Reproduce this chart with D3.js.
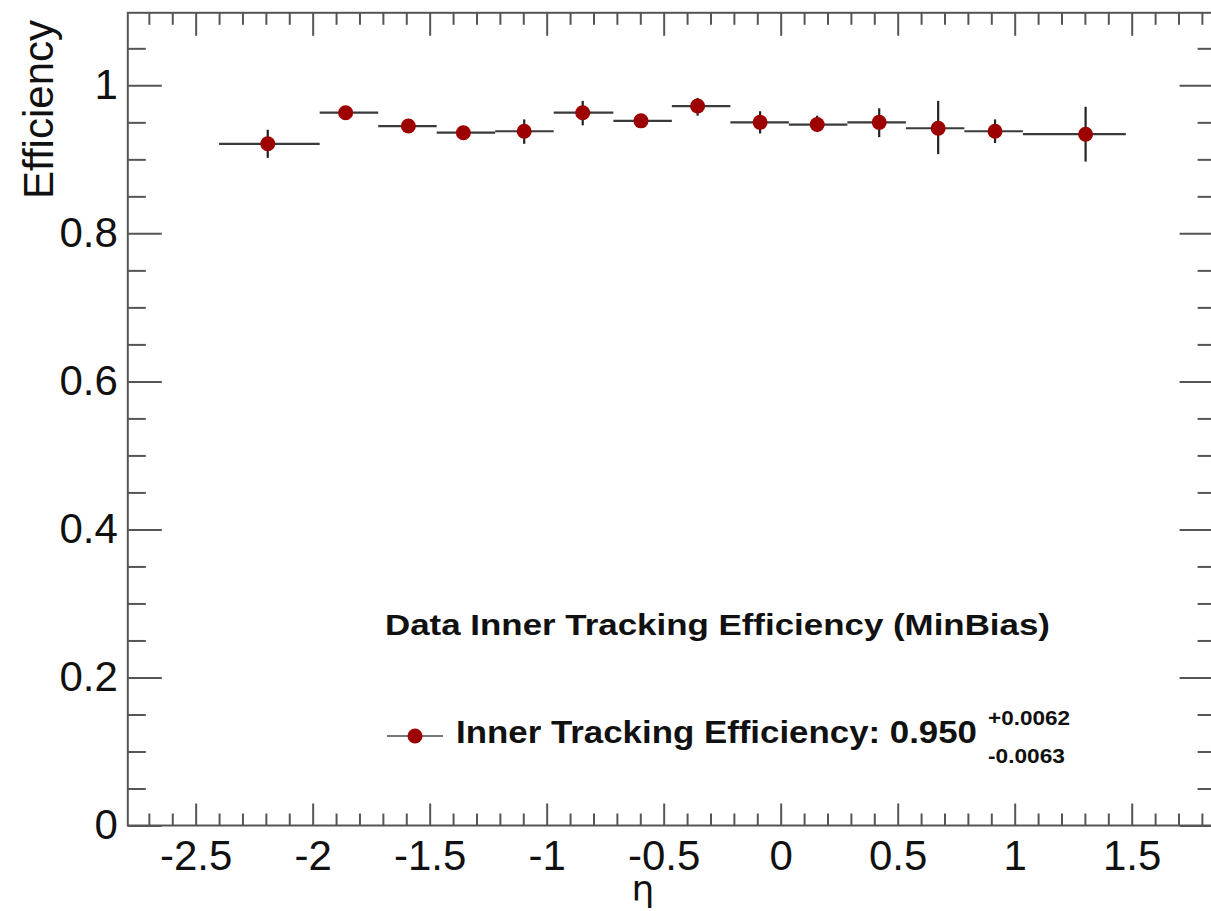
<!DOCTYPE html>
<html>
<head>
<meta charset="utf-8">
<script src="https://cdn.jsdelivr.net/npm/d3@7"></script>
<style>
  body { margin: 0; background: #fff; }
  svg { display: block; font-family: "Liberation Sans", Arial, sans-serif; }
</style>
</head>
<body>
<svg id="chart" width="1211" height="911"></svg>
<script>
// points per eta bin
var etaPoints = [-2.192, -1.859, -1.591, -1.356, -1.096, -0.846, -0.597, -0.355, -0.088, 0.156, 0.421, 0.673, 0.916, 1.303];
var binLow    = [-2.40, -1.97, -1.72, -1.47, -1.22, -0.97, -0.715, -0.465, -0.215, 0.035, 0.285, 0.535, 0.785, 1.035];
var binHigh   = [-1.97, -1.72, -1.47, -1.22, -0.97, -0.715, -0.465, -0.215, 0.035, 0.285, 0.535, 0.785, 1.035, 1.475];
var efficiency = [0.921, 0.963, 0.945, 0.936, 0.938, 0.963, 0.952, 0.972, 0.950, 0.947, 0.950, 0.942, 0.938, 0.934];
var errUp   = [0.019, 0.004, 0.004, 0.004, 0.016, 0.016, 0.005, 0.011, 0.015, 0.012, 0.019, 0.037, 0.016, 0.037];
var errDown = [0.019, 0.004, 0.004, 0.004, 0.017, 0.017, 0.005, 0.013, 0.015, 0.010, 0.020, 0.035, 0.016, 0.037];

// tick labels
var xMajor = [-2.5, -2, -1.5, -1, -0.5, 0, 0.5, 1, 1.5];
var yMajor = [0, 0.2, 0.4, 0.6, 0.8, 1];

var titleText = "Data Inner Tracking Efficiency (MinBias)";
var legendText = "Inner Tracking Efficiency: 0.950";
var legendUp = "+0.0062", legendDown = "-0.0063";

var svg = d3.select("#chart");

var x = d3.scaleLinear().domain([-2.79, 1.85]).range([127.8, 1213.6]);
var y = d3.scaleLinear().domain([0, 1.098]).range([825.5, 12.8]);

var xMinor = d3.range(-27, 19).map(function (d) { return d / 10; })
    .filter(function (d) { return Math.abs(d * 2 - Math.round(d * 2)) > 1e-6; });
var yMinor = d3.range(1, 22).map(function (d) { return d * 0.05; })
    .filter(function (d) { return Math.abs(d * 5 - Math.round(d * 5)) > 1e-6; });

var axisColor = "#555";
// plain hyphen minus like the original plot
var plain = function (d) { return String(d); };

// frame
svg.append("rect")
    .attr("x", x.range()[0]).attr("y", y.range()[1])
    .attr("width", x.range()[1] - x.range()[0])
    .attr("height", y.range()[0] - y.range()[1])
    .attr("fill", "none").attr("stroke", axisColor).attr("stroke-width", 2);

function styleAxis(g) {
    g.select(".domain").remove();
    g.selectAll("line").attr("stroke", axisColor).attr("stroke-width", 2);
    g.selectAll("text").attr("fill", "#111").attr("font-size", "42px")
        .attr("font-family", "Liberation Sans, Arial, sans-serif");
}

// bottom
svg.append("g").attr("transform", "translate(0," + y(0) + ")")
    .call(d3.axisBottom(x).tickValues(xMajor).tickSize(-22).tickPadding(15).tickFormat(plain))
    .call(styleAxis);
svg.append("g").attr("transform", "translate(0," + y(0) + ")")
    .call(d3.axisBottom(x).tickValues(xMinor).tickSize(-12).tickFormat(""))
    .call(styleAxis);
// top
svg.append("g").attr("transform", "translate(0," + y.range()[1] + ")")
    .call(d3.axisTop(x).tickValues(xMajor).tickSize(-23).tickFormat(""))
    .call(styleAxis);
svg.append("g").attr("transform", "translate(0," + y.range()[1] + ")")
    .call(d3.axisTop(x).tickValues(xMinor).tickSize(-12).tickFormat(""))
    .call(styleAxis);
// left
svg.append("g").attr("transform", "translate(" + x.range()[0] + ",0)")
    .call(d3.axisLeft(y).tickValues(yMajor).tickSize(-34).tickPadding(10).tickFormat(plain))
    .call(styleAxis);
svg.append("g").attr("transform", "translate(" + x.range()[0] + ",0)")
    .call(d3.axisLeft(y).tickValues(yMinor).tickSize(-18).tickFormat(""))
    .call(styleAxis);
// right
svg.append("g").attr("transform", "translate(" + x.range()[1] + ",0)")
    .call(d3.axisRight(y).tickValues(yMajor).tickSize(-34).tickFormat(""))
    .call(styleAxis);
svg.append("g").attr("transform", "translate(" + x.range()[1] + ",0)")
    .call(d3.axisRight(y).tickValues(yMinor).tickSize(-16).tickFormat(""))
    .call(styleAxis);

// axis titles
svg.append("text")
    .attr("transform", "translate(53,20) rotate(-90)")
    .attr("text-anchor", "end")
    .attr("font-size", "42px")
    .attr("fill", "#111")
    .text("Efficiency");

svg.append("text")
    .attr("x", 643).attr("y", 901)
    .attr("text-anchor", "middle")
    .attr("font-size", "36px")
    .attr("font-family", "DejaVu Sans, sans-serif")
    .attr("fill", "#111")
    .text("η");

// data
var pts = etaPoints.map(function (e, i) {
    return { eta: e, lo: binLow[i], hi: binHigh[i], v: efficiency[i], up: errUp[i], dn: errDown[i] };
});

var g = svg.append("g");
g.selectAll(".binline").data(pts).enter().append("line")
    .attr("x1", function (d) { return x(d.lo); })
    .attr("x2", function (d) { return x(d.hi); })
    .attr("y1", function (d) { return y(d.v); })
    .attr("y2", function (d) { return y(d.v); })
    .attr("stroke", "#3a3a3a").attr("stroke-width", 2.2);

g.selectAll(".errbar").data(pts).enter().append("line")
    .attr("x1", function (d) { return x(d.eta); })
    .attr("x2", function (d) { return x(d.eta); })
    .attr("y1", function (d) { return y(d.v + d.up); })
    .attr("y2", function (d) { return y(d.v - d.dn); })
    .attr("stroke", "#222").attr("stroke-width", 2.2);

g.selectAll("circle").data(pts).enter().append("circle")
    .attr("cx", function (d) { return x(d.eta); })
    .attr("cy", function (d) { return y(d.v); })
    .attr("r", 7.5)
    .attr("fill", "#9c0000");

// legend
svg.append("text")
    .attr("x", 385).attr("y", 635)
    .attr("font-size", "30px").attr("font-weight", "bold")
    .attr("fill", "#111")
    .attr("textLength", 665).attr("lengthAdjust", "spacingAndGlyphs")
    .text(titleText);

svg.append("line")
    .attr("x1", 387).attr("x2", 443).attr("y1", 736).attr("y2", 736)
    .attr("stroke", "#777").attr("stroke-width", 2.2);
svg.append("circle")
    .attr("cx", 415).attr("cy", 736).attr("r", 7.5).attr("fill", "#9c0000");

svg.append("text")
    .attr("x", 456).attr("y", 743)
    .attr("font-size", "32px").attr("font-weight", "bold")
    .attr("fill", "#111")
    .attr("textLength", 521).attr("lengthAdjust", "spacingAndGlyphs")
    .text(legendText);

svg.append("text")
    .attr("x", 988).attr("y", 725)
    .attr("font-size", "20px").attr("font-weight", "bold")
    .attr("fill", "#111")
    .attr("textLength", 82).attr("lengthAdjust", "spacingAndGlyphs")
    .text(legendUp);
svg.append("text")
    .attr("x", 988).attr("y", 763)
    .attr("font-size", "20px").attr("font-weight", "bold")
    .attr("fill", "#111")
    .attr("textLength", 77).attr("lengthAdjust", "spacingAndGlyphs")
    .text(legendDown);
</script>
</body>
</html>
